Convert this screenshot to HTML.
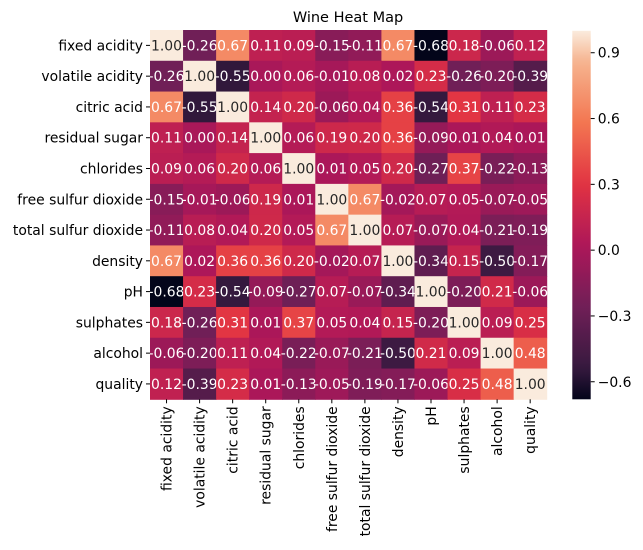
<!DOCTYPE html>
<html><head><meta charset="utf-8"><style>
body{margin:0;background:#fff;width:643px;height:550px;overflow:hidden}
svg{display:block;font-family:"DejaVu Sans","Liberation Sans",sans-serif}
</style></head><body>
<svg id="chart" width="643" height="550" viewBox="0 0 643 550">
<text x="348" y="22" text-anchor="middle" font-size="14.5">Wine Heat Map</text>
<g id="cells"></g>
<g id="ylabels"></g>
<g id="xlabels"></g>
<g id="cbar"></g>
</svg>
<script>
const labels=["fixed acidity","volatile acidity","citric acid","residual sugar","chlorides","free sulfur dioxide","total sulfur dioxide","density","pH","sulphates","alcohol","quality"];
const row0=[1.00,-0.26,0.67,0.11,0.09,-0.15,-0.11,0.67,-0.68,0.18,-0.06,0.12];
const row1=[-0.26,1.00,-0.55,0.00,0.06,-0.01,0.08,0.02,0.23,-0.26,-0.20,-0.39];
const row2=[0.67,-0.55,1.00,0.14,0.20,-0.06,0.04,0.36,-0.54,0.31,0.11,0.23];
const row3=[0.11,0.00,0.14,1.00,0.06,0.19,0.20,0.36,-0.09,0.01,0.04,0.01];
const row4=[0.09,0.06,0.20,0.06,1.00,0.01,0.05,0.20,-0.27,0.37,-0.22,-0.13];
const row5=[-0.15,-0.01,-0.06,0.19,0.01,1.00,0.67,-0.02,0.07,0.05,-0.07,-0.05];
const row6=[-0.11,0.08,0.04,0.20,0.05,0.67,1.00,0.07,-0.07,0.04,-0.21,-0.19];
const row7=[0.67,0.02,0.36,0.36,0.20,-0.02,0.07,1.00,-0.34,0.15,-0.50,-0.17];
const row8=[-0.68,0.23,-0.54,-0.09,-0.27,0.07,-0.07,-0.34,1.00,-0.20,0.21,-0.06];
const row9=[0.18,-0.26,0.31,0.01,0.37,0.05,0.04,0.15,-0.20,1.00,0.09,0.25];
const row10=[-0.06,-0.20,0.11,0.04,-0.22,-0.07,-0.21,-0.50,0.21,0.09,1.00,0.48];
const row11=[0.12,-0.39,0.23,0.01,-0.13,-0.05,-0.19,-0.17,-0.06,0.25,0.48,1.00];
const matrix=[row0,row1,row2,row3,row4,row5,row6,row7,row8,row9,row10,row11];
const cbarTicks=[0.9,0.6,0.3,0.0,-0.3,-0.6];
const vmin=-0.68,vmax=1.0;

const NS="http://www.w3.org/2000/svg";
const L=150,R=546.7,T=30,B=399.3;
const cw=(R-L)/12,ch=(B-T)/12;
const xs=i=>L+i*cw, ys=j=>T+j*ch;
const stops=[[0,[3,5,26]],[1/12,[53,25,62]],[3/12,[112,31,87]],[5/12,[173,23,89]],[7/12,[225,51,66]],[9/12,[243,118,81]],[11/12,[246,180,143]],[1,[250,235,221]]];
function cmap(v){let t=(v-vmin)/(vmax-vmin);t=Math.max(0,Math.min(1,t));
 for(let k=1;k<stops.length;k++){if(t<=stops[k][0]){const a=stops[k-1],b=stops[k];const f=(t-a[0])/(b[0]-a[0]);
 return a[1].map((c,i)=>Math.round(c+(b[1][i]-c)*f));}}return stops[stops.length-1][1];}
function lum(c){const l=c.map(x=>{x/=255;return x<=0.03928?x/12.92:Math.pow((x+0.055)/1.055,2.4)});return 0.2126*l[0]+0.7152*l[1]+0.0722*l[2];}
function mk(tag,attrs,parent){const e=document.createElementNS(NS,tag);for(const k in attrs)e.setAttribute(k,attrs[k]);parent.appendChild(e);return e;}
const cells=document.getElementById('cells');
matrix.forEach((row,j)=>row.forEach((v,i)=>{
 const c=cmap(v);
 const r=mk('rect',{x:xs(i),y:ys(j),width:cw+0.5,height:ch+0.5,fill:`rgb(${c})`},cells);
 
 
 const t=mk('text',{x:xs(i)+cw/2,y:ys(j)+ch/2+5,'text-anchor':'middle','font-size':'13.9',fill:lum(c)>0.408?'#262626':'#ffffff'},cells);
 
 
 t.textContent=v.toFixed(2);
}));
const yl=document.getElementById('ylabels'),xl=document.getElementById('xlabels');
labels.forEach((s,j)=>{
 mk('line',{x1:L-4,x2:L,y1:ys(j)+ch/2,y2:ys(j)+ch/2,stroke:'#000','stroke-width':1},yl);
 const t=mk('text',{x:L-7,y:ys(j)+ch/2+5,'text-anchor':'end','font-size':'13.9'},yl);
 
 
 t.textContent=s;
 const cx=xs(j)+cw/2;
 mk('line',{x1:cx,x2:cx,y1:B,y2:B+4,stroke:'#000','stroke-width':1},xl);
 const u=mk('text',{x:0,y:0,'text-anchor':'end','font-size':'13.9',transform:`translate(${cx+5},${B+7}) rotate(-90)`},xl);
 
 
 u.textContent=s;
});
const cb=document.getElementById('cbar');
const cbL=572.3,cbW=18.4,cbT=30.8,cbB=399.3;
const cy=v=>cbB-(v-vmin)/(vmax-vmin)*(cbB-cbT);
const defs=mk('defs',{},cb);
const g=mk('linearGradient',{id:'grad',x1:0,y1:1,x2:0,y2:0},defs);
for(let k=0;k<=40;k++){const v=vmin+(vmax-vmin)*k/40;mk('stop',{offset:k/40,'stop-color':`rgb(${cmap(v)})`},g);}
mk('rect',{x:cbL,y:cbT,width:cbW,height:cbB-cbT,fill:'url(#grad)'},cb);
cbarTicks.forEach(v=>{
 const y=cy(v);
 mk('line',{x1:cbL+cbW,x2:cbL+cbW+4,y1:y,y2:y,stroke:'#000'},cb);
 const t=mk('text',{x:cbL+cbW+7,y:y+5,'font-size':'13.9'},cb);
 
 
 t.textContent=v<0?'\u2212'+Math.abs(v).toFixed(1):v.toFixed(1);
});
</script>
</body></html>
